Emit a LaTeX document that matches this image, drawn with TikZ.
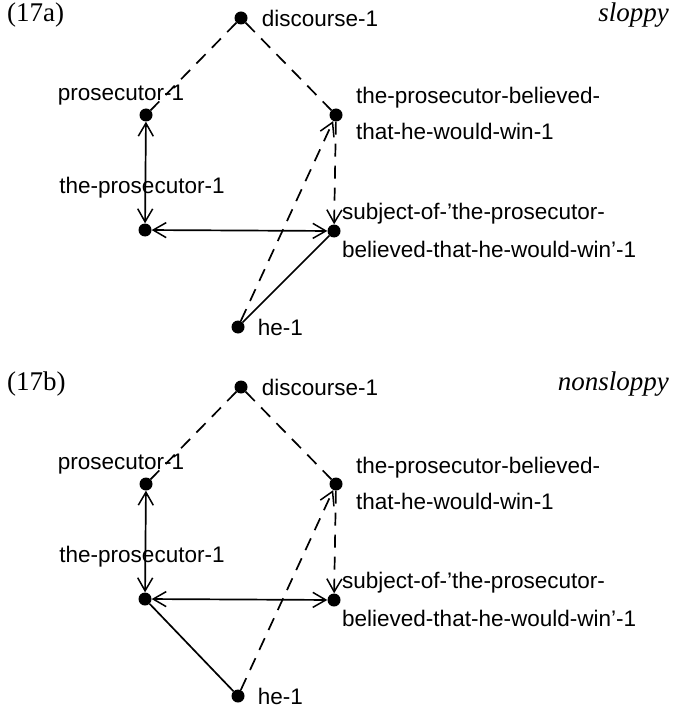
\documentclass[tikz,border=0pt]{standalone}
\usepackage{fontspec}
\setmainfont{Liberation Serif}
\setsansfont{Liberation Sans}
\usetikzlibrary{arrows.meta}
\usetikzlibrary{positioning}

\tikzset{
    dotnode/.style = {circle, fill, inner sep = 0pt, minimum size = 13pt},
    lbl/.style = {font = \sffamily\fontsize{22.5}{26}\selectfont, inner sep = 0pt},
    tagtext/.style = {font = \fontsize{27}{31}\selectfont, inner sep = 0pt},
    link/.style = {line width = 1.7pt},
    dashlink/.style = {link, dash pattern = on 13pt off 9pt},
    onehead/.style = {-{Straight Barb[length = 13pt, width = 15pt, line width = 1.5pt]}},
    twohead/.style = {{Straight Barb[length = 13pt, width = 15pt, line width = 1.5pt]}-{Straight Barb[length = 13pt, width = 15pt, line width = 1.5pt]}},
}

\begin{document}
\begin{tikzpicture}[x = 1pt, y = -1pt, black]
    \useasboundingbox (0,0) rectangle (672,711);

    \foreach \sub/\dy/\kind/\he in {a/0/sloppy/S, b/369/nonsloppy/T}{
        \begin{scope}[shift = {(0,\dy)}]

            \node (Tag\sub) [tagtext, anchor = west] at (7,15) {(17\sub)};
            \node (Kind\sub) [tagtext, anchor = east] at (669,15) {\itshape \kind};

            % dots
            \node (D\sub) at (241,18)  [dotnode] {};
            \node (P\sub) at (146,115) [dotnode] {};
            \node (B\sub) at (336,115) [dotnode] {};
            \node (T\sub) at (145,230) [dotnode] {};
            \node (S\sub) at (334,231) [dotnode] {};
            \node (H\sub) at (238,327) [dotnode] {};

            % labels
            \node (LD\sub) [lbl, right = 14pt of D\sub] {discourse-1};
            \node (LP\sub) [lbl] at (121,95) {prosecutor-1};
            \node (LT\sub) [lbl] at (142,188) {the-prosecutor-1};
            \node (LB\sub) [lbl, anchor = base west] at (356,104) {the-prosecutor-believed-};
            \node (LBb\sub) [lbl, anchor = base west] at (356,140) {that-he-would-win-1};
            \node (LS\sub) [lbl, anchor = base west] at (342,219) {subject-of-'the-prosecutor-};
            \node (LSb\sub) [lbl, anchor = base west] at (342,257) {believed-that-he-would-win'-1};
            \node (LH\sub) [lbl, right = 13pt of H\sub] {he-1};

            % links
            \draw[dashlink] (D\sub) -- (P\sub);
            \draw[dashlink] (D\sub) -- (B\sub);
            \draw[link, twohead] (P\sub) -- (T\sub);
            \draw[link, twohead] (T\sub) -- (S\sub);
            \draw[dashlink, onehead] (B\sub) -- (S\sub);
            \draw[dashlink, onehead] (H\sub) -- (B\sub);
            \draw[link] (H\sub) -- (\he\sub);

        \end{scope}
    }
\end{tikzpicture}
\end{document}
